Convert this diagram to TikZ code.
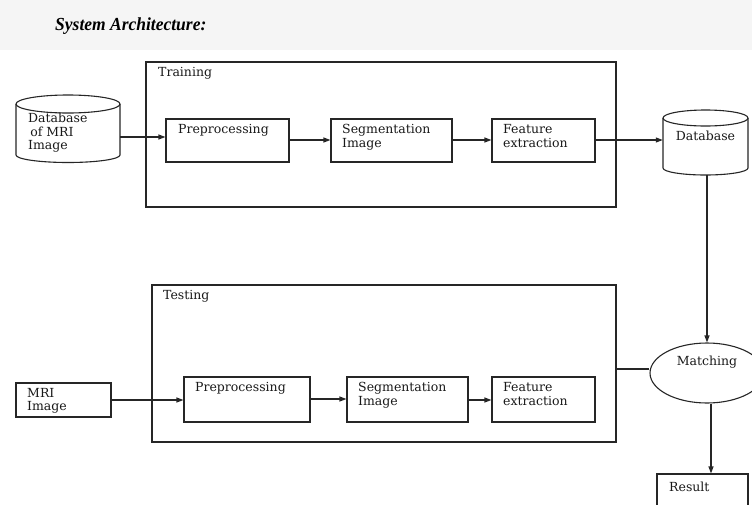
\documentclass[tikz,border=0pt]{standalone}
\usepackage{fontspec}
\setmainfont{DejaVu Serif}
\newfontfamily\titlefont{Liberation Serif}
\usetikzlibrary{arrows.meta,shapes.geometric}
\begin{document}
\begin{tikzpicture}[x=1pt,y=-1pt,
  ln/.style={draw=black!85,line width=1.1pt},
  arr/.style={ln,-{Triangle[length=7pt,width=5pt]}},
  boxn/.style={ln,rectangle,inner sep=0pt},
  area/.style={ln,rectangle,inner sep=0pt},
  ghost/.style={draw=none,rectangle,inner sep=0pt},
  txt/.style={inner sep=0pt,text=black!90,font=\fontsize{12.5}{13.5}\selectfont},
  lbl/.style={txt,anchor=north west,align=left}]
\useasboundingbox (0,0) rectangle (752,504);
\clip (0,0) rectangle (752,504);
\fill[black!4] (0,0) rectangle (752,50);
\node[anchor=base west,inner sep=0pt,yscale=1.05,font=\titlefont\bfseries\itshape\fontsize{17.5}{19}\selectfont] (title) at (55,30) {System Architecture:};

% Training area
\node[area,minimum width=470pt,minimum height=145pt] (train) at (381,134.5) {};
\node[lbl] (trainl) at (158,67) {Training};
% cylinder 1
\node[ghost,minimum width=104pt,minimum height=67pt] (db1) at (68,128.5) {};
\draw[ln,fill=white] (16,104) -- (16,155) arc[start angle=180,end angle=0,x radius=52,y radius=7.5] -- (120,104);
\draw[ln] (68,104) ellipse[x radius=52,y radius=9];
\node[lbl] (db1l) at (28,113) {Database\\ \,of MRI\\Image};
% boxes
\node[boxn,minimum width=123pt,minimum height=43pt] (pre1) at (227.5,140.5) {};
\node[lbl] (pre1l) at (178,124.5) {Preprocessing};
\node[boxn,minimum width=121pt,minimum height=43pt] (seg1) at (391.5,140.5) {};
\node[lbl] (seg1l) at (342,124.5) {Segmentation\\Image};
\node[boxn,minimum width=103pt,minimum height=43pt] (fea1) at (543.5,140.5) {};
\node[lbl] (fea1l) at (503,124.5) {Feature\\extraction};
% database 2
\node[ghost,minimum width=85pt,minimum height=65pt] (db2) at (705.5,142.5) {};
\draw[ln,fill=white] (663,118) -- (663,168) arc[start angle=180,end angle=0,x radius=42.5,y radius=7] -- (748,118);
\draw[ln] (705.5,118) ellipse[x radius=42.5,y radius=8];
\node[txt] (db2l) at (705.5,136) {Database};

\draw[arr] (db1.east |- 0,137) -- (pre1.west |- 0,137);
\draw[arr] (pre1.east |- 0,140) -- (seg1.west |- 0,140);
\draw[arr] (seg1.east |- 0,140) -- (fea1.west |- 0,140);
\draw[arr] (fea1.east |- 0,140) -- (db2.west |- 0,140);

% Testing area
\node[area,minimum width=464pt,minimum height=157pt] (test) at (384,363.5) {};
\node[lbl] (testl) at (163,290) {Testing};
\node[boxn,minimum width=95pt,minimum height=34pt] (mri) at (63.5,400) {};
\node[lbl] (mril) at (27,388) {MRI\\Image};
\node[boxn,minimum width=126pt,minimum height=45pt] (pre2) at (247,399.5) {};
\node[lbl] (pre2l) at (195,382.5) {Preprocessing};
\node[boxn,minimum width=121pt,minimum height=45pt] (seg2) at (407.5,399.5) {};
\node[lbl] (seg2l) at (358,382.5) {Segmentation\\Image};
\node[boxn,minimum width=103pt,minimum height=45pt] (fea2) at (543.5,399.5) {};
\node[lbl] (fea2l) at (503,382.5) {Feature\\extraction};

\draw[arr] (mri.east |- 0,400) -- (pre2.west |- 0,400);
\draw[arr] (pre2.east |- 0,399) -- (seg2.west |- 0,399);
\draw[arr] (seg2.east |- 0,400) -- (fea2.west |- 0,400);

% Matching
\node[ln,ellipse,fill=white,minimum width=114pt,minimum height=60pt,inner sep=0pt] (match) at (707,373) {};
\node[txt] (matchl) at (707,362) {Matching};
\draw[ln] (test.east |- 0,369) -- (match.west |- 0,369);
\draw[arr] (db2.south -| 707,0) -- (match.north);

% Result
\node[boxn,minimum width=91pt,minimum height=60pt] (res) at (702.5,504) {};
\node[lbl] (resl) at (669,482) {Result};
\draw[arr] (match.south -| 711,0) -- (res.north -| 711,0);
\end{tikzpicture}
\end{document}
